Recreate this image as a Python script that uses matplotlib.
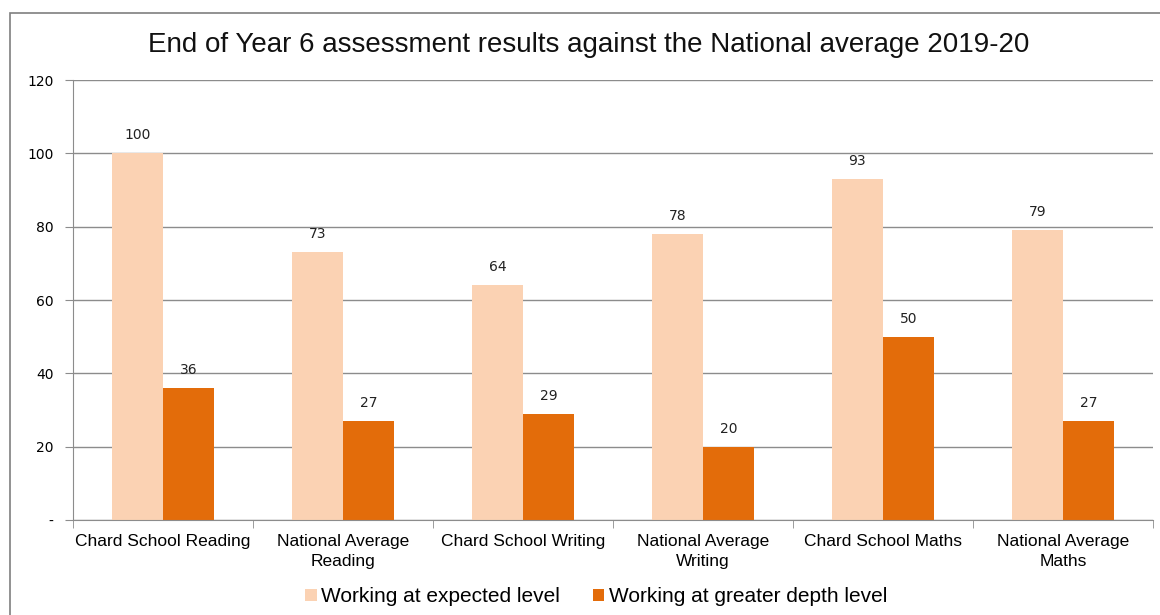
import matplotlib
matplotlib.use("Agg")
import matplotlib.pyplot as plt
import numpy as np
from matplotlib.patches import Rectangle

categories = [
    "Chard School Reading",
    "National Average\nReading",
    "Chard School Writing",
    "National Average\nWriting",
    "Chard School Maths",
    "National Average\nMaths",
]
expected = [100, 73, 64, 78, 93, 79]
greater_depth = [36, 27, 29, 20, 50, 27]
series_names = ["Working at expected level", "Working at greater depth level"]
title = "End of Year 6 assessment results against the National average 2019-20"

LIGHT = "#fbd2b3"
DARK = "#e36c0a"
GRID = "#8c8c8c"

plt.rcParams["font.family"] = ["Liberation Sans", "DejaVu Sans"]

W, H = 1160, 615
fig = plt.figure(figsize=(W / 100, H / 100), dpi=100)
# axes box in pixels: left 73, right 1153, top 80, bottom 520
ax = fig.add_axes([73 / W, 1 - 520 / H, (1153 - 73) / W, (520 - 80) / H])

x = np.arange(len(categories))
bw = 0.285
b1 = ax.bar(x - bw / 2, expected, bw, color=LIGHT, label=series_names[0], zorder=2)
b2 = ax.bar(x + bw / 2, greater_depth, bw, color=DARK, label=series_names[1], zorder=2)

for bars in (b1, b2):
    for r in bars:
        ax.text(r.get_x() + r.get_width() / 2, r.get_height() + 3, f"{r.get_height():.0f}",
                ha="center", va="bottom", fontsize=10, family="DejaVu Sans", color="#222222")

ax.set_xlim(-0.5, len(categories) - 0.5)
ax.set_ylim(0, 120)
yt = [0, 20, 40, 60, 80, 100, 120]
ax.set_yticks(yt)
ax.set_yticklabels(["-"] + [str(v) for v in yt[1:]], fontsize=10, family="DejaVu Sans")
ax.yaxis.grid(True, color=GRID, lw=1, zorder=0)
ax.set_axisbelow(True)

ax.set_xticks(x)
ax.set_xticklabels(categories, fontsize=12.5)
for lbl in ax.get_xticklabels():
    lbl.set_linespacing(1.4)
ax.tick_params(axis="x", length=0, pad=10)
ax.set_xticks(np.arange(-0.5, len(categories)), minor=True)
ax.tick_params(axis="x", which="minor", length=6, color=GRID, direction="out")
ax.tick_params(axis="y", length=6, color=GRID, direction="out", pad=8)

for s in ("top", "right"):
    ax.spines[s].set_visible(False)
for s in ("left", "bottom"):
    ax.spines[s].set_color(GRID)

fig.text(589 / W, 1 - 45 / H, title, ha="center", va="center", fontsize=20, color="#111111")

leg = fig.legend(loc="center", bbox_to_anchor=(596 / W, 1 - 597 / H), ncol=2, frameon=False,
                 fontsize=15, handlelength=0.55, handleheight=0.55, handletextpad=0.2,
                 columnspacing=1.6)

# outer chart border
fig.patches.append(Rectangle((10 / W, -0.05), 1.2, 1 - 13 / H + 0.05, transform=fig.transFigure,
                             fill=False, edgecolor="#7f7f7f", lw=1.2))

fig.savefig("out.png", dpi=100)
